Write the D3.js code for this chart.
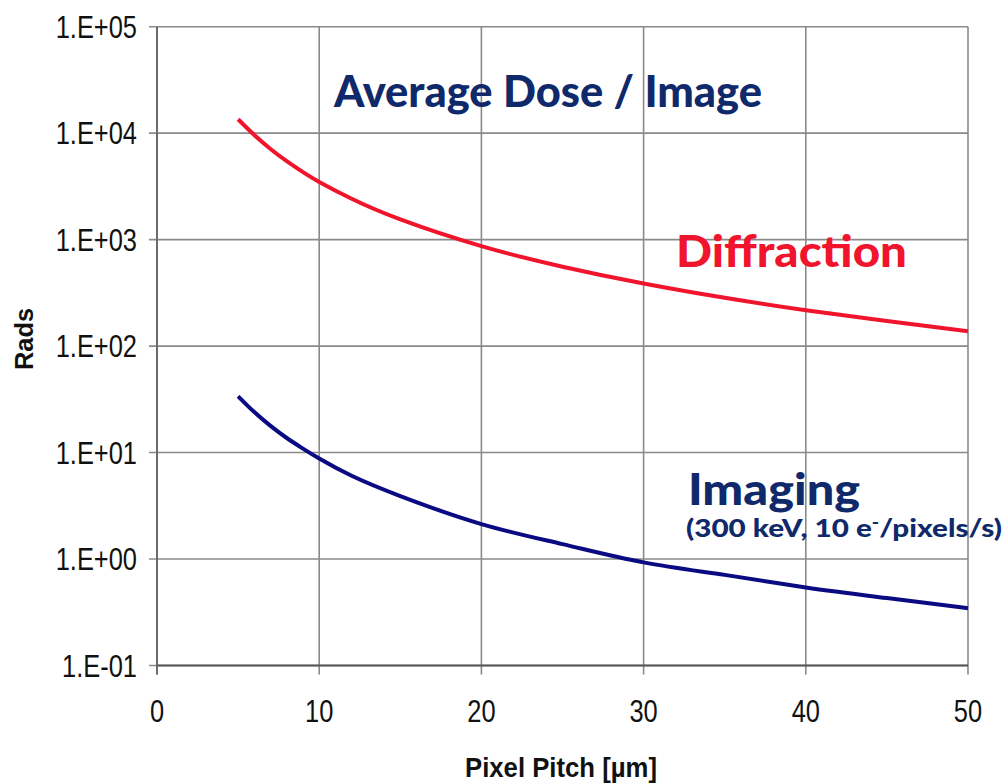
<!DOCTYPE html>
<html>
<head>
<meta charset="utf-8">
<script src="https://cdn.jsdelivr.net/npm/d3@7"></script>
<style>
  body { margin: 0; background: #fff; }
  svg { display: block; }
</style>
</head>
<body>
<svg width="1007" height="784"></svg>
<script>
// pixel pitch (um) and dose values
const pitch = [5, 6, 7, 8, 9, 10, 12, 15, 20, 25, 30, 35, 40, 45, 50];
const diffraction = [13500, 9600, 7100, 5450, 4300, 3480, 2420, 1550, 870, 557, 387, 284, 217, 172, 138];
const imaging = [33.8, 24, 17.8, 13.7, 10.9, 8.8, 6.05, 3.9, 2.13, 1.38, 0.93, 0.71, 0.54, 0.43, 0.345];
const xTicks = [0, 10, 20, 30, 40, 50];
const yTicks = [1e-1, 1e0, 1e1, 1e2, 1e3, 1e4, 1e5];
const yTickLabels = ["1.E-01", "1.E+00", "1.E+01", "1.E+02", "1.E+03", "1.E+04", "1.E+05"];

const svg = d3.select("svg");
const x = d3.scaleLinear().domain([0, 50]).range([157, 968]);
const y = d3.scaleLog().domain([0.1, 1e5]).range([665.5, 26.7]);

// grid
svg.append("g").selectAll("line").data(yTicks).join("line")
  .attr("x1", 149).attr("x2", x(50))
  .attr("y1", d => y(d)).attr("y2", d => y(d))
  .attr("stroke", "#8a8a8a").attr("stroke-width", 1.6);
svg.append("g").selectAll("line").data(xTicks).join("line")
  .attr("x1", d => x(d)).attr("x2", d => x(d))
  .attr("y1", y(1e5)).attr("y2", y(0.1) + 9)
  .attr("stroke", "#8a8a8a").attr("stroke-width", 1.6);
// axis lines
svg.append("line").attr("x1", x(0)).attr("x2", x(50)).attr("y1", y(0.1)).attr("y2", y(0.1))
  .attr("stroke", "#555").attr("stroke-width", 1.8);
svg.append("line").attr("x1", x(0)).attr("x2", x(0)).attr("y1", y(1e5)).attr("y2", y(0.1) + 9)
  .attr("stroke", "#666").attr("stroke-width", 1.8);

// tick labels
const tickFont = "'Liberation Sans', Arial, sans-serif";
svg.append("g").attr("class", "ylab").selectAll("text").data(yTicks).join("text")
  .attr("x", 137).attr("y", d => y(d))
  .attr("dy", "0.36em")
  .attr("text-anchor", "end")
  .attr("font-family", tickFont).attr("font-size", 31).attr("fill", "#111")
  .text((d, i) => yTickLabels[i]);
svg.append("g").attr("class", "xlab").selectAll("text").data(xTicks).join("text")
  .attr("x", d => x(d)).attr("y", 722)
  .attr("text-anchor", "middle")
  .attr("font-family", tickFont).attr("font-size", 31).attr("fill", "#111")
  .text(d => d);
// narrow the tick glyphs a bit like the original
svg.selectAll(".ylab text, .xlab text").each(function () {
  const len = this.getComputedTextLength();
  d3.select(this).attr("textLength", len * 0.82).attr("lengthAdjust", "spacingAndGlyphs");
});

// axis titles
svg.append("text").attr("x", 561).attr("y", 777)
  .attr("text-anchor", "middle")
  .attr("font-family", tickFont).attr("font-weight", "bold").attr("font-size", 28)
  .attr("textLength", 192).attr("lengthAdjust", "spacingAndGlyphs")
  .attr("fill", "#111").text("Pixel Pitch [µm]");
svg.append("text").attr("transform", "translate(33,339) rotate(-90)")
  .attr("text-anchor", "middle")
  .attr("font-family", tickFont).attr("font-weight", "bold").attr("font-size", 26)
  .attr("textLength", 62).attr("lengthAdjust", "spacingAndGlyphs")
  .attr("fill", "#111").text("Rads");

// curves
const line = d3.line().x((d, i) => x(pitch[i])).y(d => y(d)).curve(d3.curveNatural);
svg.append("path").datum(diffraction).attr("d", line)
  .attr("fill", "none").attr("stroke", "#f0142d").attr("stroke-width", 4);
svg.append("path").datum(imaging).attr("d", line)
  .attr("fill", "none").attr("stroke", "#0a0a82").attr("stroke-width", 4);

// annotations
const labelFont = "Lato, 'Open Sans', sans-serif";
const navy = "#10296b";
svg.append("text").attr("x", 334).attr("y", 107)
  .attr("font-family", labelFont).attr("font-weight", "900").attr("font-size", 44)
  .attr("textLength", 428).attr("lengthAdjust", "spacingAndGlyphs")
  .attr("fill", navy).text("Average Dose / Image");
svg.append("text").attr("x", 676).attr("y", 267)
  .attr("font-family", labelFont).attr("font-weight", "900").attr("font-size", 44)
  .attr("textLength", 231).attr("lengthAdjust", "spacingAndGlyphs")
  .attr("fill", "#f0142d").text("Diffraction");
svg.append("text").attr("x", 688).attr("y", 505)
  .attr("font-family", labelFont).attr("font-weight", "900").attr("font-size", 44)
  .attr("textLength", 172).attr("lengthAdjust", "spacingAndGlyphs")
  .attr("fill", navy).text("Imaging");
const sub = svg.append("text").attr("x", 686).attr("y", 537)
  .attr("font-family", labelFont).attr("font-weight", "900").attr("font-size", 24)
  .attr("textLength", 316).attr("lengthAdjust", "spacingAndGlyphs")
  .attr("fill", navy);
sub.append("tspan").text("(300 keV, 10 e");
sub.append("tspan").attr("dy", -9).attr("font-size", 16).text("-");
sub.append("tspan").attr("dy", 9).text("/pixels/s)");
</script>
</body>
</html>
